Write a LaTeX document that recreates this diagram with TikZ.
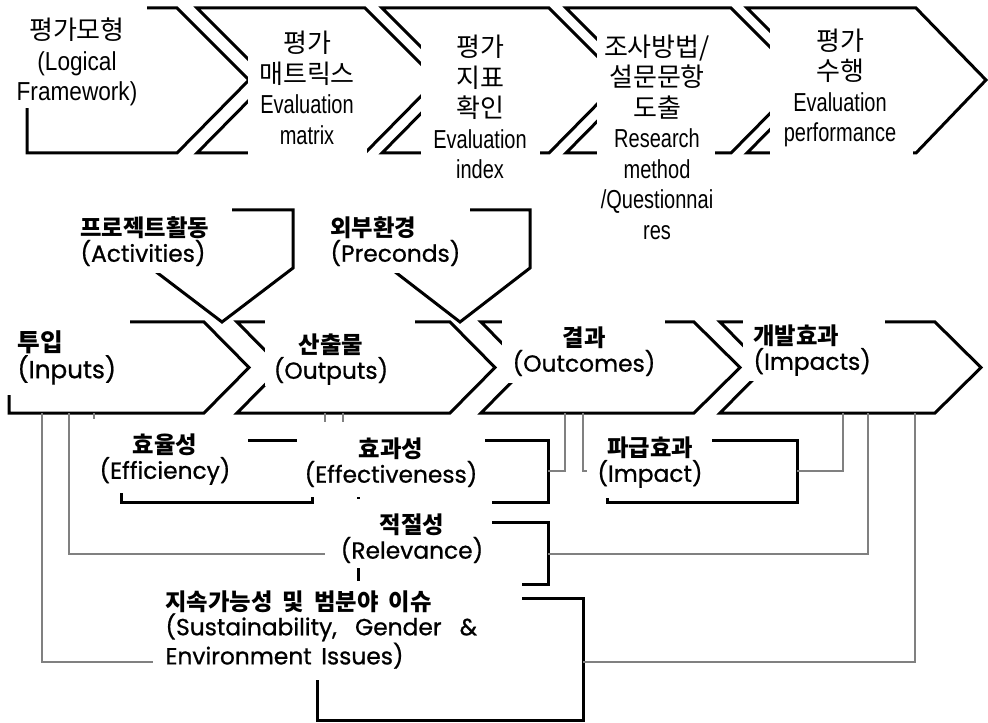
\documentclass[tikz,border=0pt]{standalone}
\usepackage{fontspec}
\setmainfont{Liberation Sans}
\newfontfamily\kofont{Noto Sans CJK KR}
\newfontfamily\lfnarrow[FakeStretch=0.87]{Liberation Sans}
\newfontfamily\evnarrow[FakeStretch=0.77]{Liberation Sans}
\newfontfamily\geofont[FakeBold=0.8]{Poppins}
\newcommand{\kob}{\kofont\bfseries}

\tikzset{every picture/.style={line width=0.75pt}}
\tikzset{
  chevron/.style={line width=2.25pt, line join=miter, miter limit=10},
  bracket/.style={line width=2.25pt},
  conn/.style={draw={rgb,255:red,128;green,128;blue,128}, line width=0.9pt},
  mask/.style={fill=white},
  toptext/.style={inner sep=0pt, align=center, font=\fontsize{19.5}{22.9}\selectfont},
  lbltext/.style={inner sep=0pt, font=\fontsize{17.5}{18.75}\selectfont},
}

\begin{document}
\begin{tikzpicture}[x=0.75pt,y=0.75pt,yscale=-1,xscale=1]
\useasboundingbox (0,0) rectangle (988,723);

%Shape: Chevrons, evaluation steps
\draw [chevron] (27,8) -- (177,8) -- (249,80) -- (177,153) -- (27,153) -- cycle ;
\draw [chevron] (197,8) -- (365,8) -- (437,80) -- (365,153) -- (197,153) -- (269,80) -- cycle ;
\draw [chevron] (382,8) -- (549,8) -- (621,80) -- (549,153) -- (382,153) -- (454,80) -- cycle ;
\draw [chevron] (566,8) -- (731,8) -- (803,80) -- (731,153) -- (566,153) -- (638,80) -- cycle ;
\draw [chevron] (747,8) -- (916,8) -- (986,80) -- (916,153) -- (747,153) -- (819,80) -- cycle ;

%Shape: Pentagons pointing down
\draw [chevron] (151,210) -- (293,210) -- (293,268) -- (222,322) -- (151,268) -- cycle ;
\draw [chevron] (390,210) -- (530,210) -- (530,268) -- (460,322) -- (390,268) -- cycle ;

%Shape: Chevrons, logic model
\draw [chevron] (9,322) -- (204,322) -- (249,367.5) -- (204,413) -- (9,413) -- cycle ;
\draw [chevron] (237,322) -- (450,322) -- (495,367.5) -- (450,413) -- (237,413) -- (282,367.5) -- cycle ;
\draw [chevron] (481,322) -- (694,322) -- (740,367.5) -- (694,413) -- (481,413) -- (526,367.5) -- cycle ;
\draw [chevron] (720,322) -- (935,322) -- (981,367.5) -- (935,413) -- (720,413) -- (765,367.5) -- cycle ;

%Shape: Rectangles, criteria
\draw [bracket] (121,440) rectangle (312,502) ;
\draw [bracket] (358,440) rectangle (548,502) ;
\draw [bracket] (358,522) rectangle (548,584) ;
\draw [bracket] (317,598) rectangle (583,720) ;
\draw [bracket] (607,440) rectangle (797,502) ;

%Connector ends
\coordinate (inA) at (42,413) ;
\coordinate (inB) at (69,413) ;
\coordinate (inC) at (94,413) ;
\coordinate (outA) at (325,413) ;
\coordinate (outB) at (343,413) ;
\coordinate (ocA) at (565,413) ;
\coordinate (ocB) at (583,413) ;
\coordinate (imA) at (843,413) ;
\coordinate (imB) at (868,413) ;
\coordinate (imC) at (915,413) ;
\coordinate (effiT) at (94,419) ;
\coordinate (effeTa) at (325,422) ;
\coordinate (effeTb) at (343,422) ;
\coordinate (effeR) at (548,471) ;
\coordinate (imptL) at (587,471) ;
\coordinate (imptR) at (797,471) ;
\coordinate (relL) at (325,554) ;
\coordinate (relR) at (548,554) ;
\coordinate (sustL) at (153,662) ;
\coordinate (sustR) at (583,662) ;

%Straight Lines
\draw [conn] (inA) |- (sustL) ;
\draw [conn] (inB) |- (relL) ;
\draw [conn] (inC) -- (effiT) ;
\draw [conn] (outA) -- (effeTa) ;
\draw [conn] (outB) -- (effeTb) ;
\draw [conn] (ocA) |- (effeR) ;
\draw [conn] (ocB) |- (imptL) ;
\draw [conn] (imA) |- (imptR) ;
\draw [conn] (imB) |- (relR) ;
\draw [conn] (imC) |- (sustR) ;

%Text boxes (white backgrounds)
\path [mask] (0,0) rectangle (147,108) ;
\path [mask] (248,14) rectangle (367,160) ;
\path [mask] (421,14) rectangle (540,190) ;
\path [mask] (597,14) rectangle (715,245) ;
\path [mask] (770,14) rectangle (913,165) ;
\path [mask] (75,200) rectangle (232,273) ;
\path [mask] (325,200) rectangle (470,273) ;
\path [mask] (0,312) rectangle (130,395) ;
\path [mask] (265,312) rectangle (415,386) ;
\path [mask] (502,312) rectangle (665,383) ;
\path [mask] (743,312) rectangle (885,381) ;
\path [mask] (90,419) rectangle (248,493) ;
\path [mask] (297,422) rectangle (485,497) ;
\path [mask] (325,499) rectangle (492,568) ;
\path [mask] (153,581) rectangle (522,680) ;
\path [mask] (587,420) rectangle (712,498) ;

%Text: evaluation steps
\node [toptext] (lf) at (77,62) {{\kofont 평가모형}\\{\lfnarrow (Logical}\\{\lfnarrow Framework)}};
\node [toptext] (evmat) at (307,88) {{\kofont 평가}\\{\kofont 매트릭스}\\{\evnarrow Evaluation}\\{\evnarrow matrix}};
\node [toptext] (evidx) at (480,107) {{\kofont 평가}\\{\kofont 지표}\\{\kofont 확인}\\{\evnarrow Evaluation}\\{\evnarrow index}};
\node [toptext] (resq) at (657,137) {{\kofont 조사방법/}\\{\kofont 설문문항}\\{\kofont 도출}\\{\evnarrow Research}\\{\evnarrow method}\\{\evnarrow /Questionnai}\\{\evnarrow res}};
\node [toptext] (evperf) at (840,88) {{\kofont 평가}\\{\kofont 수행}\\{\evnarrow Evaluation}\\{\evnarrow performance}};

%Text: logic model
\node [lbltext, anchor=west, align=left] (act) at (80,241.5) {{\kob 프로젝트활동}\\{\geofont (Activities)}};
\node [lbltext, anchor=west, align=left] (pre) at (330,241.5) {{\kob 외부환경}\\{\geofont (Preconds)}};
\node [lbltext, anchor=west, align=left, font=\fontsize{18.5}{20.25}\selectfont] (inp) at (17,357.5) {{\kob 투입}\\{\geofont (Inputs)}};
\node [lbltext, align=center] (outp) at (331,359.5) {{\kob 산출물}\\{\geofont (Outputs)}};
\node [lbltext, align=center] (outc) at (584,351.5) {{\kob 결과}\\{\geofont (Outcomes)}};
\node [lbltext, anchor=west, align=left] (impc) at (753,350.5) {{\kob 개발효과}\\{\geofont (Impacts)}};

%Text: criteria
\node [lbltext, align=center] (effi) at (165,459.5) {{\kob 효율성}\\{\geofont (Efficiency)}};
\node [lbltext, align=center] (effe) at (391,462.5) {{\kob 효과성}\\{\geofont (Effectiveness)}};
\node [lbltext, align=center] (rel) at (412,538.5) {{\kob 적절성}\\{\geofont (Relevance)}};
\node [lbltext, align=center] (impt) at (650,462.5) {{\kob 파급효과}\\{\geofont (Impact)}};
\node [lbltext, anchor=west, align=left, font=\fontsize{17.5}{18.2}\selectfont] (sust) at (165,630) {{\kob 지속가능성\hspace{3.5pt} 및\hspace{3.5pt} 범분야\hspace{3.5pt} 이슈}\\{\geofont (Sustainability,\hspace{9pt} Gender\hspace{9pt} \&}\\{\geofont Environment\hspace{2.5pt} Issues)}};

\end{tikzpicture}
\end{document}
